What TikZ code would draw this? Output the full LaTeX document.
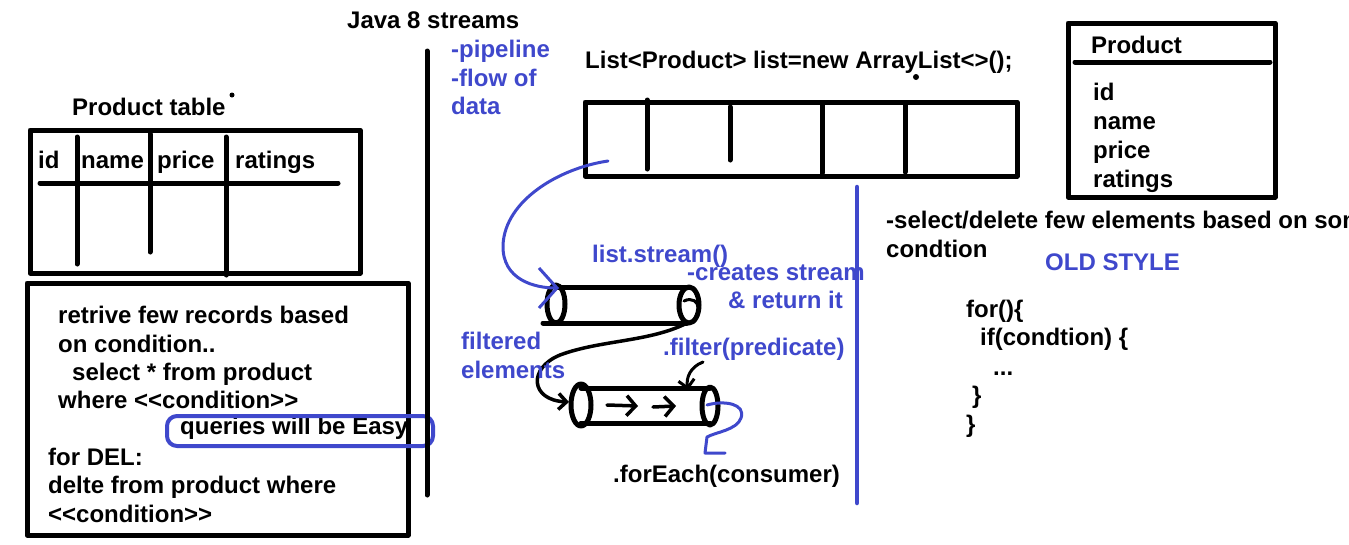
\documentclass[tikz,border=0pt]{standalone}
\usepackage{fontspec}
\setmainfont{Liberation Sans}
\usetikzlibrary{arrows.meta}
\definecolor{pen}{RGB}{63,72,204}

\begin{document}
\begin{tikzpicture}[x=1pt, y=-1pt, line cap=round, line join=round,
    txt/.style={anchor=base west, inner sep=0pt, font=\bfseries\fontsize{24}{29}\selectfont},
    note/.style={txt, text=pen},
    ink/.style={line width=5pt},
    penline/.style={pen, line width=3pt},
    bigbarb/.style={-{Straight Barb[length=18pt, width=40pt]}},
    smallbarb/.style={-{Straight Barb[length=8pt, width=16pt]}},
    chevron/.style={-{Straight Barb[length=9pt, width=20pt]}}]
    % Canvas
    \fill[white] (0,0) rectangle (1349,544);
    \clip (0,0) rectangle (1349,544);

    % Product table
    \node[txt] (tabletitle) at (72,115) {Product table};
    \fill (232,95) circle (2.5pt);
    \draw[ink] (30,130) rectangle (360,273);
    \draw[ink] (40,183) -- (338,183);
    \draw[ink] (77,137) -- (77,264);
    \draw[ink] (150,134) -- (150,252);
    \draw[ink] (226,137) -- (226,275);
    \node[txt] (colid) at (38,168) {id};
    \node[txt] (colname) at (81,168) {name};
    \node[txt] (colprice) at (157,168) {price};
    \node[txt] (colratings) at (235,168) {ratings};

    % SQL way
    \draw[ink] (27,283) rectangle (408,535);
    \node[txt] (sql1) at (58,323) {retrive few records based};
    \node[txt] (sql2) at (58,352) {on condition..};
    \node[txt] (sql3) at (72,380) {select * from product};
    \node[txt] (sql4) at (58,408) {where <{}<condition>{}>};
    \node[txt] (easy) at (180,434) {queries will be Easy};
    \draw[pen, line width=4pt, rounded corners=10pt] (167,416) rectangle (433,446);
    \node[txt] (del1) at (48,465) {for DEL:};
    \node[txt] (del2) at (48,493) {delte from product where};
    \node[txt] (del3) at (48,522) {<{}<condition>{}>};

    % Divider
    \draw[ink] (427,51) -- (427,495);

    % Streams heading
    \node[txt] (heading) at (347,28) {Java 8 streams};
    \node[note] (pipe1) at (451,57) {-pipeline};
    \node[note] (pipe2) at (451,86) {-flow of};
    \node[note] (pipe3) at (451,114) {data};

    % List of products
    \node[txt] (decl) at (585,68) {List<Product> list=new ArrayList<>();};
    \fill (916,77) circle (3pt);
    \draw[ink] (585,102) rectangle (1017,176);
    \draw[ink] (647,100) -- (647,169);
    \draw[ink] (730,107) -- (730,160);
    \draw[ink] (822,105) -- (822,173);
    \draw[ink] (905,105) -- (905,172);

    % First pipe
    \coordinate (pipeAin) at (559,288);
    \coordinate (pipeAout) at (687,323);
    \draw[ink] (556,304) ellipse [x radius=9pt, y radius=19pt];
    \draw[ink] (556,287) -- (690,287);
    \draw[ink] (543,323) -- (687,323);
    \draw[ink] (689,305) ellipse [x radius=10pt, y radius=18pt];
    \draw[line width=3pt] (684,301) .. controls (692,297) and (698,302) .. (698,307);
    \draw[penline, bigbarb] (608,161) .. controls (560,168) and (505,200) .. (503,245)
        .. controls (502,280) and (535,288) .. (pipeAin);
    \node[note] (streamcall) at (592,262) {list.stream()};
    \node[note] (creates) at (687,280) {-creates stream};
    \node[note] (returns) at (728,308) {\& return it};

    % Second pipe
    \coordinate (pipeBin) at (569,402);
    \coordinate (pipeBtop) at (688,390);
    \draw[ink] (581,405) ellipse [x radius=10pt, y radius=21pt];
    \draw[ink] (581,388) -- (710,388);
    \draw[ink] (581,423) -- (710,423);
    \draw[ink] (710,406) ellipse [x radius=8pt, y radius=19pt];
    \draw[line width=3.5pt, chevron] (607,405) -- (638,406);
    \draw[line width=3.5pt, chevron] (653,407) -- (676,406);
    \draw[line width=3.5pt, smallbarb] (pipeAout) .. controls (650,342) and (600,340) .. (560,355)
        .. controls (528,368) and (530,400) .. (pipeBin);
    \draw[line width=3pt, smallbarb] (703,362) .. controls (690,367) and (686,378) .. (pipeBtop);
    \draw[penline] (707,405) .. controls (725,400) and (746,404) .. (741,418)
        .. controls (737,430) and (716,432) .. (707,437) -- (705,453) -- (725,453);
    \node[note] (filtered1) at (461,349) {filtered};
    \node[note] (filtered2) at (461,378) {elements};
    \node[note] (filtercall) at (663,355) {.filter(predicate)};
    \node[txt] (eachcall) at (613,482) {.forEach(consumer)};

    % Blue divider
    \draw[pen, line width=4.5pt] (857,187) -- (857,503);

    % Product class
    \draw[ink] (1068,23) rectangle (1275,197);
    \draw[ink] (1075,62) -- (1270,62);
    \node[txt] (classname) at (1091,53) {Product};
    \node[txt] (fid) at (1093,100) {id};
    \node[txt] (fname) at (1093,129) {name};
    \node[txt] (fprice) at (1093,158) {price};
    \node[txt] (fratings) at (1093,187) {ratings};

    % Old style
    \node[txt] (task1) at (886,228) {-select/delete few elements based on some};
    \node[txt] (task2) at (886,257) {condtion};
    \node[note] (oldstyle) at (1045,270) {OLD STYLE};
    \node[txt] (code1) at (966,317) {for()\{};
    \node[txt] (code2) at (980,345) {if(condtion) \{};
    \node[txt] (code3) at (993,375) {...};
    \node[txt] (code4) at (972,403) {\}};
    \node[txt] (code5) at (966,432) {\}};
\end{tikzpicture}
\end{document}
